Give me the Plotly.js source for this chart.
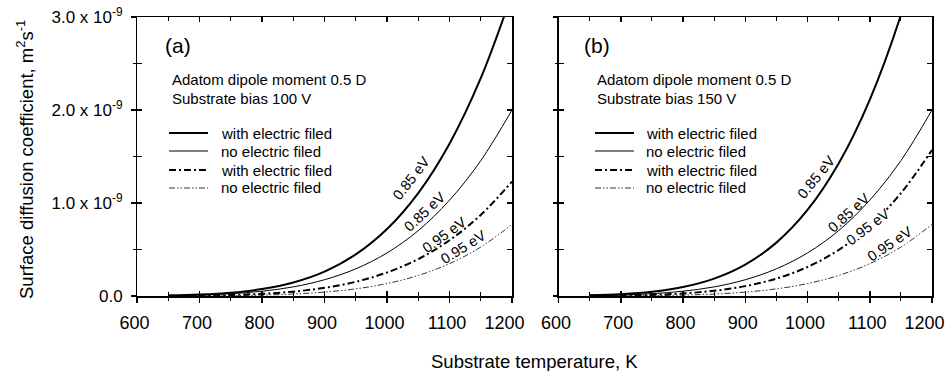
<!DOCTYPE html>
<html>
<head>
<meta charset="utf-8">
<script src="https://cdn.plot.ly/plotly-3.0.1.min.js"></script>
<style>html,body{margin:0;padding:0;background:#fff;}#chart{width:946px;height:371px;}</style>
</head>
<body>
<div id="chart"></div>
<script>
// Temperature (K)
const temperature = [650, 700, 750, 800, 850, 900, 950, 1000, 1050, 1100, 1150, 1200];
// Surface diffusion coefficient, units of 1e-9 m^2/s
// Panel (a): substrate bias 100 V
const a_withField_085 = [0.0055, 0.015, 0.035, 0.075, 0.146, 0.263, 0.447, 0.72, 1.107, 1.638, 2.342, 3.25];
const a_noField_085   = [0.0041, 0.0107, 0.0248, 0.0516, 0.098, 0.175, 0.292, 0.463, 0.703, 1.03, 1.455, 2.0];
const a_withField_095 = [0.0015, 0.0043, 0.0106, 0.0235, 0.047, 0.088, 0.153, 0.253, 0.397, 0.599, 0.872, 1.23];
const a_noField_095   = [0.0005, 0.0015, 0.004, 0.0097, 0.021, 0.042, 0.077, 0.134, 0.221, 0.348, 0.526, 0.77];
// Panel (b): substrate bias 150 V
const b_withField_085 = [0.007, 0.019, 0.045, 0.096, 0.187, 0.338, 0.574, 0.925, 1.425, 2.11, 3.02, 4.19];
const b_noField_085   = [0.0041, 0.0107, 0.0248, 0.0516, 0.098, 0.175, 0.292, 0.463, 0.703, 1.03, 1.455, 2.0];
const b_withField_095 = [0.0017, 0.0049, 0.0123, 0.0276, 0.056, 0.106, 0.187, 0.312, 0.495, 0.753, 1.105, 1.57];
const b_noField_095   = [0.0005, 0.0015, 0.004, 0.0097, 0.021, 0.042, 0.077, 0.134, 0.221, 0.348, 0.526, 0.77];

const seriesNames = ["with electric filed", "no electric filed", "with electric filed", "no electric filed"];
const xTickVals = [600, 700, 800, 900, 1000, 1100, 1200];
const xTickText = ["600&nbsp;", "700&nbsp;", "800&nbsp;", "900&nbsp;", "1000&nbsp;", "1100&nbsp;", "1200&nbsp;&nbsp;&nbsp;"];
const yTickVals = [0, 1, 2, 3];
const yTickText = ["0.0", "1.0 x 10<sup>-9</sup>", "2.0 x 10<sup>-9</sup>", "3.0 x 10<sup>-9</sup>"];
const curveLabels = ["0.85 eV", "0.85 eV", "0.95 eV", "0.95 eV"];
const panelA_labelPos = {x: [1039, 1060, 1091, 1122], y: [1.27, 0.90, 0.66, 0.53], angle: [-52, -43, -36, -32]};
const panelB_labelPos = {x: [1014, 1066, 1097, 1132], y: [1.28, 0.89, 0.74, 0.555], angle: [-51, -42, -37, -34]};

const FONT = "Liberation Sans, Arial, Helvetica, sans-serif";
const styles = [
  {color: "#000", width: 2, dash: "solid"},
  {color: "#000", width: 1, dash: "solid"},
  {color: "#000", width: 2, dash: "7px,3px,2px,3px"},
  {color: "#000", width: 0.8, dash: "6px,2px,1.5px,2px,1.5px,2px"}
];

const panelA = [a_withField_085, a_noField_085, a_withField_095, a_noField_095];
const panelB = [b_withField_085, b_noField_085, b_withField_095, b_noField_095];
const traces = [];
panelA.forEach((ys, i) => traces.push({
  x: temperature, y: ys, type: "scatter", mode: "lines", name: seriesNames[i],
  line: Object.assign({shape: "spline", smoothing: 1}, styles[i]),
  xaxis: "x", yaxis: "y", showlegend: false, hoverinfo: "skip"
}));
panelB.forEach((ys, i) => traces.push({
  x: temperature, y: ys, type: "scatter", mode: "lines", name: seriesNames[i],
  line: Object.assign({shape: "spline", smoothing: 1}, styles[i]),
  xaxis: "x2", yaxis: "y2", showlegend: false, hoverinfo: "skip"
}));
// invisible carriers so that the outer tick axes are drawn
traces.push({x: temperature, y: a_noField_095, type: "scatter", mode: "lines", opacity: 0,
  xaxis: "x3", yaxis: "y3", showlegend: false, hoverinfo: "skip"});
traces.push({x: temperature, y: b_noField_095, type: "scatter", mode: "lines", opacity: 0,
  xaxis: "x4", yaxis: "y4", showlegend: false, hoverinfo: "skip"});

const W = 946, H = 371;
const xDomA = [137 / W, 512 / W];
const xDomB = [558.5 / W, 932 / W];
const yDom = [(H - 296) / H, (H - 17) / H];

function innerX(anchor, domain) {
  return {domain: domain, anchor: anchor, range: [600, 1200], showgrid: false, zeroline: false,
    showline: true, linecolor: "#000", linewidth: 1.5, mirror: "ticks",
    ticks: "inside", ticklen: 5, tickwidth: 1.5, tickcolor: "#000",
    tickmode: "array", tickvals: xTickVals, showticklabels: false,
    minor: {tickmode: "linear", tick0: 600, dtick: 50, ticks: "inside", ticklen: 4, tickwidth: 1, tickcolor: "#000", showgrid: false}};
}
function outerX(overlay, anchor, domain) {
  return {overlaying: overlay, anchor: anchor, domain: domain, range: [600, 1200], showgrid: false, zeroline: false,
    showline: false, ticks: "outside", ticklen: 6, tickwidth: 1.5, tickcolor: "#000",
    tickmode: "array", tickvals: xTickVals, ticktext: xTickText, showticklabels: true,
    ticklabeloverflow: "allow",
    ticklabelstandoff: 4, tickfont: {family: FONT, size: 18, color: "#000"},
    minor: {tickmode: "linear", tick0: 600, dtick: 50, ticks: "outside", ticklen: 4, tickwidth: 1, tickcolor: "#000", showgrid: false}};
}
function innerY(anchor) {
  return {domain: yDom, anchor: anchor, range: [0, 3], showgrid: false, zeroline: false,
    showline: true, linecolor: "#000", linewidth: 1.5, mirror: "ticks",
    ticks: "inside", ticklen: 5, tickwidth: 1.5, tickcolor: "#000",
    tickmode: "array", tickvals: yTickVals, showticklabels: false,
    minor: {tickmode: "linear", tick0: 0, dtick: 0.5, ticks: "inside", ticklen: 5, tickwidth: 1, tickcolor: "#000", showgrid: false}};
}
function outerY(overlay, anchor, labels) {
  return {overlaying: overlay, anchor: anchor, domain: yDom, side: "left", range: [0, 3], showgrid: false, zeroline: false,
    showline: false, ticks: "outside", ticklen: 5, tickwidth: 1.5, tickcolor: "#000",
    tickmode: "array", tickvals: yTickVals, ticktext: yTickText, showticklabels: labels,
    ticklabelstandoff: 5, tickfont: {family: FONT, size: 17, color: "#000"},
    minor: {tickmode: "linear", tick0: 0, dtick: 0.5, ticks: "outside", ticklen: 3, tickwidth: 1, tickcolor: "#000", showgrid: false}};
}

const annotations = [];
const shapes = [];
function addText(x, y, text, size, anchor) {
  annotations.push({xref: "paper", yref: "paper", x: x / W, y: (H - y) / H, text: text, showarrow: false,
    xanchor: anchor || "left", yanchor: "middle", font: {family: FONT, size: size, color: "#000"}});
}
addText(163, 45, "(a)", 21);
addText(170, 79, "Adatom dipole moment 0.5 D", 15);
addText(170, 98, "Substrate bias 100 V", 15);
addText(582, 45, "(b)", 21);
addText(595, 79, "Adatom dipole moment 0.5 D", 15);
addText(595, 98, "Substrate bias 150 V", 15);
addText(534, 361, "Substrate temperature, K", 18.5, "center");
annotations.push({xref: "paper", yref: "paper", x: 25 / W, y: (H - 160) / H, textangle: -90,
  text: "Surface diffusion coefficient, m<sup>2</sup>s<sup>-1</sup>", showarrow: false,
  xanchor: "center", yanchor: "middle", font: {family: FONT, size: 18.5, color: "#000"}});

// legend (drawn manually to match the compact row spacing)
const legendRows = [133, 151, 170, 188];
[[169, 219], [595, 644]].forEach(([lx, tx]) => {
  seriesNames.forEach((name, i) => {
    shapes.push({type: "line", xref: "paper", yref: "paper", x0: lx / W, x1: (lx + 39) / W,
      y0: (H - legendRows[i]) / H, y1: (H - legendRows[i]) / H,
      line: {color: styles[i].color, width: styles[i].width, dash: styles[i].dash}});
    addText(tx, legendRows[i], name, 15);
  });
});

curveLabels.forEach((t, i) => {
  annotations.push({xref: "x", yref: "y", x: panelA_labelPos.x[i], y: panelA_labelPos.y[i], text: t,
    textangle: panelA_labelPos.angle[i], showarrow: false, xanchor: "center", yanchor: "middle",
    borderpad: 0, font: {family: FONT, size: 14.5, color: "#000"}});
  annotations.push({xref: "x2", yref: "y2", x: panelB_labelPos.x[i], y: panelB_labelPos.y[i], text: t,
    textangle: panelB_labelPos.angle[i], showarrow: false, xanchor: "center", yanchor: "middle",
    bgcolor: (i === 2) ? "#fff" : "rgba(0,0,0,0)", borderpad: 0,
    font: {family: FONT, size: 14.5, color: "#000"}});
});

const layout = {
  width: W, height: H, margin: {l: 0, r: 0, t: 0, b: 0, autoexpand: false},
  paper_bgcolor: "#fff", plot_bgcolor: "rgba(0,0,0,0)",
  font: {family: FONT, color: "#000"},
  showlegend: false,
  xaxis: innerX("y", xDomA),
  yaxis: innerY("x"),
  xaxis2: innerX("y2", xDomB),
  yaxis2: innerY("x2"),
  xaxis3: outerX("x", "y3", xDomA),
  yaxis3: outerY("y", "x3", true),
  xaxis4: outerX("x2", "y4", xDomB),
  yaxis4: outerY("y2", "x4", false),
  annotations: annotations,
  shapes: shapes
};

Plotly.newPlot("chart", traces, layout, {staticPlot: true, displayModeBar: false});
</script>
</body>
</html>
